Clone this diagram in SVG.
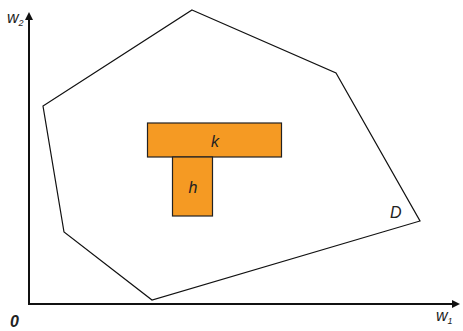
<svg xmlns="http://www.w3.org/2000/svg" width="463" height="331" viewBox="0 0 463 331">
<style>
.lbl{font-family:"Liberation Sans",Arial,sans-serif;font-style:italic;font-size:16px;fill:#222}
.sub{font-size:9px}
.box{fill:#f59a23;stroke:#222;stroke-width:1.2}
.ax{stroke:#111;stroke-width:2;fill:none}
</style>
<defs>
<marker id="ah" markerWidth="8" markerHeight="8" refX="6" refY="4" orient="auto" markerUnits="userSpaceOnUse">
<path d="M0,0 L8,4 L0,8 Z" fill="#111"/>
</marker>
</defs>
<g id="axes">
<path class="ax" d="M29,305 L29,14" marker-end="url(#ah)"/>
<path class="ax" d="M28,304 L458,304" marker-end="url(#ah)"/>
</g>
<g id="D">
<polygon points="192,10 336,73 420,221 152,300 64,232 43,106" fill="none" stroke="#111" stroke-width="1.2"/>
<text class="lbl" x="390" y="218">D</text>
</g>
<g id="k">
<rect class="box" x="147.5" y="123" width="134" height="34"/>
<text class="lbl" x="215" y="147" text-anchor="middle">k</text>
</g>
<g id="h">
<rect class="box" x="172.5" y="157" width="40" height="59"/>
<text class="lbl" x="193" y="193" text-anchor="middle">h</text>
</g>
<text class="lbl" x="7" y="23" font-size="15">w<tspan class="sub" dy="3">2</tspan></text>
<text class="lbl" x="436" y="321" font-size="15">w<tspan class="sub" dy="3">1</tspan></text>
<text class="lbl" x="10" y="327" font-weight="bold" font-size="20">0</text>
</svg>
